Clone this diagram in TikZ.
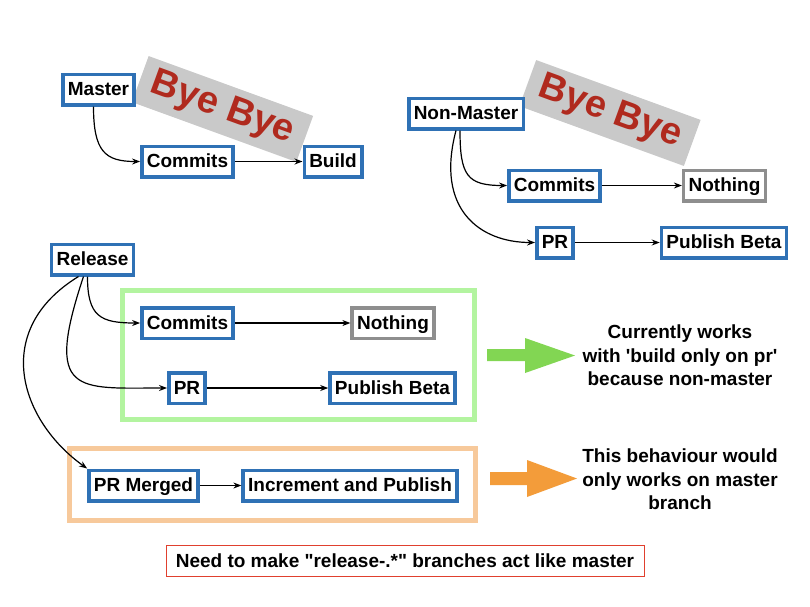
\documentclass[tikz,border=0pt]{standalone}
\usepackage{fontspec}
\setmainfont{Liberation Sans}
\usetikzlibrary{arrows.meta}

\definecolor{boxblue}{HTML}{2F71B5}
\definecolor{boxgray}{HTML}{8E8E8E}
\definecolor{byered}{HTML}{B02A1E}
\definecolor{byegray}{HTML}{C9C9C9}
\definecolor{framegreen}{HTML}{B3F4A0}
\definecolor{frameorange}{HTML}{F7C99B}
\definecolor{arrowgreen}{HTML}{82D653}
\definecolor{arroworange}{HTML}{F39C3A}
\definecolor{notered}{HTML}{E0402E}

\tikzset{
  branch/.style={draw=boxblue,line width=3.5pt,fill=white,font=\fontsize{19}{22}\selectfont\bfseries,
    inner xsep=5pt,inner ysep=0pt,minimum height=30.5pt,text height=15pt,text depth=3pt},
  idle/.style={branch,draw=boxgray},
  bye/.style={fill=byegray,text=byered,font=\fontsize{38}{40}\selectfont\bfseries,rotate=-20,
    minimum width=175pt,minimum height=49pt,inner sep=0pt},
  link/.style={line width=1.2pt,black,-{Stealth[length=8pt,width=6pt]}},
  note/.style={align=center,font=\fontsize{19}{23.5}\selectfont\bfseries}
}

\begin{document}
\begin{tikzpicture}[x=1pt,y=-1pt]
	\useasboundingbox (0,0) rectangle (810,606);
	% bye bye banners
	\node[bye](byeM) at (222.5,109){Bye Bye};
	\node[bye](byeN) at (610,113){Bye Bye};
	% master
	\node[branch](master) at (98.5,89.5){Master};
	\node[branch](commitsM) at (187.5,161.5){Commits};
	\node[branch](build) at (333,161.5){Build};
	\draw[link] ([xshift=-5pt]master.south) .. controls +(0,45) and +(-35,0) .. (commitsM.west);
	\draw[link] (commitsM) -- (build);
	% non-master
	\node[branch](nonmaster) at (466,113.5){Non-Master};
	\node[branch](commitsN) at (554.5,185.5){Commits};
	\node[idle](nothingN) at (724.5,185.5){Nothing};
	\node[branch](prN) at (555,242.5){PR};
	\node[branch](betaN) at (724,242.5){Publish Beta};
	\draw[link] ([xshift=-6pt]nonmaster.south) .. controls +(0,45) and +(-40,0) .. (commitsN.west);
	\draw[link] ([xshift=-10pt]nonmaster.south) .. controls +(-21,79) and +(-55,0) .. (prN.west);
	\draw[link] (commitsN) -- (nothingN);
	\draw[link] (prN) -- (betaN);
	% release
	\draw[framegreen,line width=5pt] (122.5,290.5) rectangle (474,419);
	\draw[frameorange,line width=5pt] (69.5,448.5) rectangle (475.5,520.5);
	\node[branch](release) at (92.5,259.5){Release};
	\node[branch](commitsR) at (187.5,323){Commits};
	\node[idle](nothingR) at (393,323){Nothing};
	\node[branch](prR) at (187,388){PR};
	\node[branch](betaR) at (392.5,388){Publish Beta};
	\node[branch](merged) at (143.5,485.5){PR Merged};
	\node[branch](increment) at (350,485.5){Increment and Publish};
	\draw[link] ([xshift=-5pt]release.south) .. controls +(0,40) and +(-40,0) .. (commitsR.west);
	\draw[link] ([xshift=-9pt]release.south) .. controls +(-40,120) and +(-90,0) .. (prR.west);
	\draw[link] ([xshift=-14pt]release.south) .. controls +(-88,54) and +(-67,-48) .. (merged.north west);
	\draw[link] (commitsR) -- (nothingR);
	\draw[link] (prR) -- (betaR);
	\draw[link] (merged) -- (increment);
	% block arrows and notes
	\fill[arrowgreen] (487,349) -- (525,349) -- (525,338) -- (575,355.5) -- (525,373) -- (525,361) -- (487,361) -- cycle;
	\fill[arroworange] (490,472) -- (527,472) -- (527,460) -- (577,478.5) -- (527,497) -- (527,485) -- (490,485) -- cycle;
	\node[note](worksNote) at (680,355.5){Currently works\\with \textquotesingle build only on pr\textquotesingle\\because non-master};
	\node[note](masterNote) at (680,479.5){This behaviour would\\only works on master\\branch};
	\node[draw=notered,line width=1pt,inner xsep=5pt,minimum width=478pt,minimum height=31pt,
		font=\fontsize{19}{22}\selectfont\bfseries](needNote) at (405,560.5){Need to make \textquotedbl release-.*\textquotedbl\ branches act like master};
\end{tikzpicture}
\end{document}
